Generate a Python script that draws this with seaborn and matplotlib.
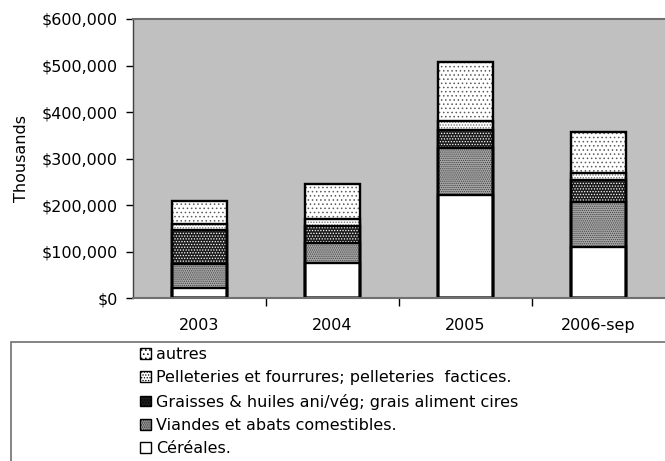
import numpy as np
import matplotlib
matplotlib.use("Agg")
import matplotlib.pyplot as plt
from matplotlib.patches import Patch, Rectangle
from matplotlib.ticker import FuncFormatter, FixedLocator
import seaborn as sns

# Valeurs (en milliers de $)
annees = ["2003", "2004", "2005", "2006-sep"]
cereales = [21000, 75000, 221000, 111000]
viandes = [52000, 43000, 101000, 96000]
graisses = [74000, 38000, 40000, 47000]
pelleteries = [12000, 14000, 19000, 16000]
autres = [51000, 76000, 126000, 88000]

noms = ["Céréales.",
        "Viandes et abats comestibles.",
        "Graisses & huiles ani/vég; grais aliment cires",
        "Pelleteries et fourrures; pelleteries  factices.",
        "autres"]
# (couleur de fond, motif, couleur du motif)
styles = [("white", None, "white"),
          ("#a8a8a8", "........", "#404040"),
          ("#1c1c1c", "......", "white"),
          ("white", "......", "#6a6a6a"),
          ("white", "....", "#5a5a5a")]

sns.set_style("white")
plt.rcParams["font.family"] = ["DejaVu Sans"]
plt.rcParams["hatch.linewidth"] = 0.6
for k in ["text.color", "axes.labelcolor", "xtick.color", "ytick.color"]:
    plt.rcParams[k] = "black"
fs = 11.5

fig = plt.figure(figsize=(6.65, 4.61), dpi=100)
ax = fig.add_axes([0.2, 0.353, 0.8, 0.6058])
ax.set_facecolor("#c0c0c0")

series = np.array([cereales, viandes, graisses, pelleteries, autres])
cumul = np.cumsum(series, axis=0)

# on dessine du haut vers le bas pour empiler
for i in range(len(noms) - 1, -1, -1):
    fc, hatch, hc = styles[i]
    sns.barplot(x=annees, y=cumul[i], color=fc, saturation=1, width=0.41,
                errorbar=None, hatch=hatch, edgecolor=hc, linewidth=0, ax=ax)
for i in range(len(noms) - 1, -1, -1):
    sns.barplot(x=annees, y=cumul[i], color="black", fill=False, width=0.41,
                errorbar=None, linewidth=1.7, ax=ax)

ax.set_xlim(-0.5, 3.5)
ax.set_ylim(0, 600000)
ax.set_yticks(np.arange(0, 600001, 100000))
ax.yaxis.set_major_formatter(FuncFormatter(lambda v, p: f"${v:,.0f}"))
ax.tick_params(axis="y", length=5, width=1, color="black", pad=6, labelsize=fs, left=True)
ax.tick_params(axis="x", which="major", length=0, pad=14, labelsize=fs)
ax.xaxis.set_minor_locator(FixedLocator([0.5, 1.5, 2.5]))
ax.tick_params(axis="x", which="minor", length=6, width=1, color="black", bottom=True)
ax.set_xlabel("")
ax.set_ylabel("Thousands", fontsize=fs, labelpad=9)

for s in ["top", "bottom"]:
    ax.spines[s].set_color("#707070")
    ax.spines[s].set_linewidth(1.5)
ax.spines["left"].set_color("#404040")
ax.spines["left"].set_linewidth(1)
ax.spines["right"].set_visible(False)

# légende
handles = []
for i in range(len(noms) - 1, -1, -1):
    fc, hatch, hc = styles[i]
    handles.append(Patch(facecolor=fc, edgecolor="black", hatch=hatch, linewidth=1))
fig.legend(handles, noms[::-1], loc="upper left", bbox_to_anchor=(0.21, 0.247),
           frameon=False, fontsize=fs, handlelength=0.7, handleheight=0.65,
           handletextpad=0.35, labelspacing=0.52, borderpad=0, borderaxespad=0)
fig.patches.append(Rectangle((0.0165, -0.1), 1.1, 0.358, transform=fig.transFigure,
                             fill=False, edgecolor="#707070", linewidth=1.2))

fig.savefig("out.png", dpi=100)
